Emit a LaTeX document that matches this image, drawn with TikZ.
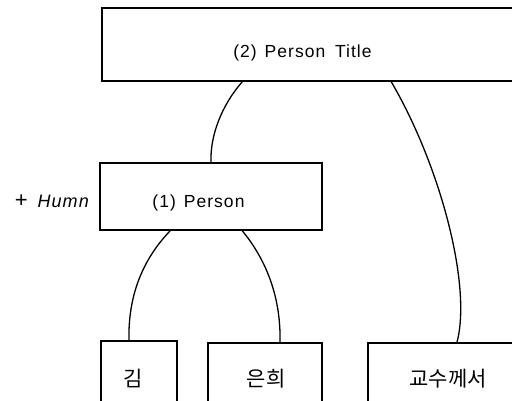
\documentclass[tikz,border=0pt]{standalone}
\usepackage{fontspec}
\setmainfont[LetterSpace=6]{Liberation Sans}
\newfontfamily\kr{Noto Sans CJK KR}
\begin{document}
\begin{tikzpicture}[x=1pt,y=-1pt,
  box/.style={draw,line width=1.5pt,rectangle,inner sep=0pt},
  lbl/.style={inner sep=0pt,anchor=base,font=\fontsize{17.5}{19}\selectfont},
  krl/.style={inner sep=0pt,font=\kr\fontsize{21}{23}\selectfont},
  link/.style={line width=1.3pt}]
\useasboundingbox (0,0) rectangle (512,401);
% boxes
\node[box,minimum width=418pt,minimum height=73pt] (top) at (311,44.5) {};
\node[box,minimum width=222pt,minimum height=67pt] (person) at (211,196.5) {};
\node[box,minimum width=76pt,minimum height=70pt] (kim) at (139,376) {};
\node[box,minimum width=114pt,minimum height=68pt] (eunhui) at (265,377) {};
\node[box,minimum width=152pt,minimum height=68pt] (prof) at (444,377) {};
% texts
\node[lbl] (ttop) at (302.5,58) {(2)\hspace{0.45em}Person\hspace{0.55em}Title};
\node[lbl] (tperson) at (198.5,208) {(1)\hspace{0.45em}Person};
\node[lbl,anchor=base east,font=\itshape\fontsize{18}{19}\selectfont] (humn) at (89,208) {{\upshape\fontsize{22}{22}\selectfont +}\hspace{0.55em}Humn};
\node[krl] (tkim) at (133.5,378.5) {김};
\node[krl] (teun) at (266,378.5) {은희};
\node[krl] (tprof) at (448,378.5) {교수께서};
% connectors
\draw[link] ([xshift=141pt]top.south west) .. controls (222,105) and (210,135) .. ([xshift=0pt]person.north);
\draw[link] ([xshift=290pt]top.south west) .. controls (440,165) and (472,285) .. ([xshift=13pt]prof.north);
\draw[link] ([xshift=71pt]person.south west) .. controls (140,262) and (128,300) .. ([xshift=-10pt]kim.north);
\draw[link] ([xshift=143pt]person.south west) .. controls (268,262) and (281,300) .. ([xshift=15pt]eunhui.north);
\end{tikzpicture}
\end{document}
